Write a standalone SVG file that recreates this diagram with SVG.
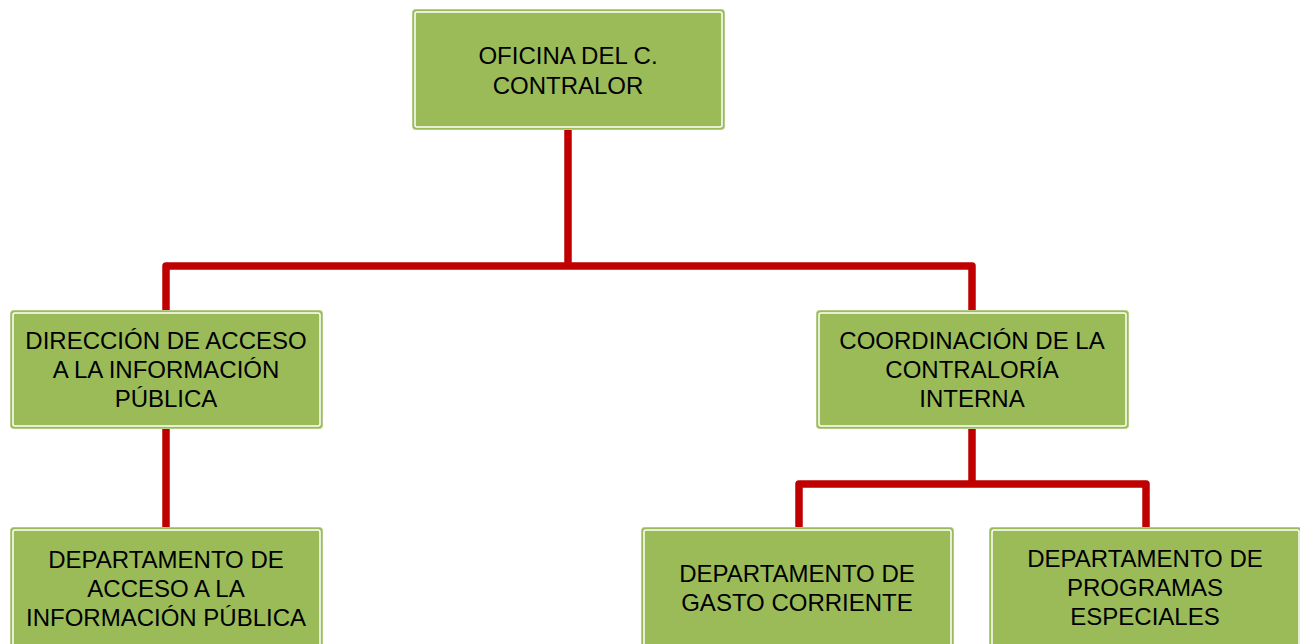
<svg xmlns="http://www.w3.org/2000/svg" width="1300" height="644" viewBox="0 0 1300 644">
<style>
.box{fill:#9BBB59;stroke:#B3CC84;stroke-width:1}
.inner{fill:none;stroke:#FFFFFF;stroke-width:1.5}
.t{font-family:"Liberation Sans",Arial,sans-serif;font-size:24px;fill:#000;text-anchor:middle}
.c{fill:none;stroke:#C00000;stroke-width:7.5;stroke-linejoin:round}
</style>
<rect width="1300" height="644" fill="#FFFFFF"/>
<g id="connectors">
<path class="c" d="M568 130 V266 M166 310 V266 H972 V310"/>
<path class="c" d="M166 428 V527"/>
<path class="c" d="M972 428 V484 M799 527 V484 H1146 V527"/>
</g>
<g id="n1">
<rect class="box" x="412.5" y="9.5" width="312" height="120" rx="3"/>
<rect class="inner" x="415" y="12" width="307" height="115" rx="2"/>
<text class="t" x="568" y="64">OFICINA DEL C.</text>
<text class="t" x="568" y="94">CONTRALOR</text>
</g>
<g id="n2">
<rect class="box" x="10.5" y="310.5" width="312" height="118" rx="3"/>
<rect class="inner" x="13" y="313" width="307" height="113" rx="2"/>
<text class="t" x="166" y="349">DIRECCIÓN DE ACCESO</text>
<text class="t" x="166" y="378">A LA INFORMACIÓN</text>
<text class="t" x="166" y="407">PÚBLICA</text>
</g>
<g id="n3">
<rect class="box" x="816.5" y="310.5" width="312" height="118" rx="3"/>
<rect class="inner" x="819" y="313" width="307" height="113" rx="2"/>
<text class="t" x="972" y="349">COORDINACIÓN DE LA</text>
<text class="t" x="972" y="378">CONTRALORÍA</text>
<text class="t" x="972" y="407">INTERNA</text>
</g>
<g id="n4">
<rect class="box" x="10.5" y="527.5" width="312" height="130" rx="3"/>
<rect class="inner" x="13" y="530" width="307" height="125" rx="2"/>
<text class="t" x="166" y="568">DEPARTAMENTO DE</text>
<text class="t" x="166" y="597">ACCESO A LA</text>
<text class="t" x="166" y="626">INFORMACIÓN PÚBLICA</text>
</g>
<g id="n5">
<rect class="box" x="641.5" y="527.5" width="312" height="130" rx="3"/>
<rect class="inner" x="644" y="530" width="307" height="125" rx="2"/>
<text class="t" x="797" y="582">DEPARTAMENTO DE</text>
<text class="t" x="797" y="611">GASTO CORRIENTE</text>
</g>
<g id="n6">
<rect class="box" x="989.5" y="527.5" width="312" height="130" rx="3"/>
<rect class="inner" x="992" y="530" width="307" height="125" rx="2"/>
<text class="t" x="1145" y="567">DEPARTAMENTO DE</text>
<text class="t" x="1145" y="596">PROGRAMAS</text>
<text class="t" x="1145" y="625">ESPECIALES</text>
</g>
</svg>
